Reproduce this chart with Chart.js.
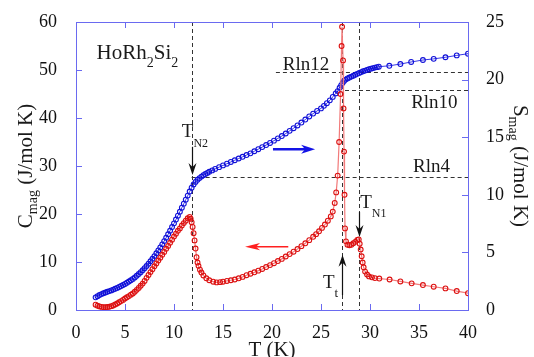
<!DOCTYPE html>
<html>
<head>
<meta charset="utf-8">
<script src="https://cdn.jsdelivr.net/npm/chart.js@4/dist/chart.umd.min.js"></script>
<style>
html,body{margin:0;padding:0;background:#fff;}
#wrap{width:534px;height:357px;position:relative;}
</style>
</head>
<body>
<div id="wrap"><canvas id="c" width="534" height="357"></canvas></div>
<script>
// ---- data ----
const T_C = [2.0,2.2,2.4,2.6,2.8,3.0,3.2,3.4,3.6,3.8,4.0,4.2,4.4,4.6,4.8,5.0,5.2,5.4,5.6,5.8,6.0,6.2,6.4,6.6,6.8,7.0,7.2,7.4,7.6,7.8,8.0,8.2,8.4,8.6,8.8,9.0,9.2,9.4,9.6,9.8,10.0,10.2,10.4,10.6,10.8,11.0,11.2,11.4,11.6,11.7,11.8,11.9,12.0,12.1,12.2,12.3,12.4,12.5,12.65,12.8,13.0,13.3,13.6,14.0,14.35,14.7,15.0,15.4,15.8,16.2,16.6,17.0,17.4,17.8,18.2,18.6,19.0,19.4,19.8,20.2,20.6,21.0,21.4,21.8,22.2,22.6,23.0,23.4,23.8,24.2,24.5,24.8,25.1,25.4,25.7,26.0,26.2,26.4,26.55,26.7,26.85,27.0,27.1,27.15,27.25,27.3,27.35,27.4,27.45,27.55,27.7,27.9,28.1,28.3,28.5,28.7,28.85,28.95,29.05,29.15,29.25,29.35,29.5,29.7,29.9,30.2,30.5,30.95,32.0,33.1,34.25,35.4,36.5,37.7,38.85,40.0];
const C_MAG = [1.1,0.9,0.75,0.65,0.6,0.6,0.62,0.68,0.8,0.95,1.15,1.35,1.6,1.85,2.1,2.4,2.65,2.9,3.2,3.45,3.8,4.2,4.6,5.05,5.5,6.05,6.7,7.3,7.9,8.5,9.1,9.7,10.3,10.9,11.5,12.1,12.75,13.35,14.0,14.65,15.3,15.9,16.5,17.0,17.6,18.1,18.6,19.1,19.4,19.0,18.3,17.3,16.0,14.5,12.8,11.0,9.9,9.2,8.4,7.8,7.2,6.6,6.2,5.9,5.75,5.8,5.9,6.05,6.2,6.35,6.6,6.9,7.25,7.55,7.85,8.2,8.55,8.95,9.35,9.75,10.2,10.65,11.15,11.65,12.15,12.7,13.3,13.9,14.55,15.25,15.8,16.4,17.1,17.8,18.6,19.5,20.5,22.3,24.5,28,35,45,55,59,52,42,33,24,17,14.3,13.6,13.5,13.6,13.9,14.2,14.6,14.7,13.8,12.6,11.2,9.9,8.9,8.0,7.4,7.0,6.8,6.65,6.55,6.35,5.95,5.55,5.2,4.85,4.5,3.95,3.5];

const T_S = [2.0,2.2,2.4,2.6,2.8,3.0,3.2,3.4,3.6,3.8,4.0,4.2,4.4,4.6,4.8,5.0,5.2,5.4,5.6,5.8,6.0,6.2,6.4,6.6,6.8,7.0,7.2,7.4,7.6,7.8,8.0,8.2,8.4,8.6,8.8,9.0,9.2,9.4,9.6,9.8,10.0,10.2,10.4,10.6,10.8,11.0,11.2,11.4,11.6,11.8,12.0,12.2,12.4,12.6,12.8,13.0,13.2,13.4,13.6,13.9,14.2,14.6,15.0,15.4,15.8,16.2,16.6,17.0,17.4,17.8,18.2,18.6,19.0,19.4,19.8,20.2,20.6,21.0,21.4,21.8,22.2,22.6,23.0,23.4,23.8,24.2,24.6,25.0,25.3,25.6,25.9,26.2,26.5,26.7,26.9,27.05,27.2,27.35,27.5,27.7,27.9,28.1,28.3,28.5,28.7,28.9,29.1,29.3,29.5,29.7,29.9,30.1,30.3,30.5,30.7,30.9,31.97,33.1,34.2,35.4,36.5,37.7,38.85,40.0];
const S_MAG = [1.1,1.2,1.3,1.38,1.45,1.52,1.58,1.64,1.7,1.77,1.84,1.92,2.0,2.08,2.17,2.26,2.36,2.47,2.58,2.7,2.83,2.97,3.12,3.28,3.45,3.63,3.82,4.02,4.23,4.45,4.68,4.92,5.17,5.43,5.7,5.98,6.27,6.57,6.88,7.2,7.52,7.85,8.19,8.53,8.88,9.23,9.58,9.93,10.28,10.62,10.9,11.12,11.3,11.45,11.58,11.7,11.8,11.9,12.0,12.12,12.25,12.4,12.55,12.7,12.85,13.0,13.15,13.3,13.45,13.6,13.78,13.96,14.14,14.32,14.5,14.7,14.9,15.1,15.32,15.55,15.78,16.02,16.27,16.53,16.8,17.05,17.28,17.5,17.72,17.95,18.2,18.5,18.8,19.0,19.3,19.5,19.7,19.88,20.0,20.1,20.18,20.26,20.34,20.42,20.5,20.58,20.65,20.72,20.78,20.84,20.9,20.95,21.0,21.04,21.08,21.12,21.2,21.35,21.53,21.7,21.8,21.94,22.1,22.25];

const X_TICKS = [0,5,10,15,20,25,30,35,40];
const C_TICKS = [0,10,20,30,40,50,60];
const S_TICKS = [0,5,10,15,20,25];

// transition temperatures / entropy levels (for guides)
const T_N2 = 11.8, T_T = 27.15, T_N1 = 28.9;
const RLN4 = 11.53, RLN10 = 19.14, RLN12 = 20.66;

const FONT = "'Liberation Serif'";
const FRAME = '#6a6af0';

function richWidth(ctx, parts){
  let w=0;
  for(const p of parts){ctx.font=p.s+'px '+FONT; w+=ctx.measureText(p.t).width;}
  return w;
}
function drawRich(ctx, parts, x, y){
  let cx=x;
  for(const p of parts){
    ctx.font=p.s+'px '+FONT;
    ctx.fillText(p.t, cx, y+(p.dy||0));
    cx+=ctx.measureText(p.t).width;
  }
}
function arrowHead(ctx, tx, ty, dx, dy, len, half, notch){
  const px=-dy, py=dx;
  const bx=tx-dx*len, by=ty-dy*len;
  ctx.beginPath();
  ctx.moveTo(tx,ty);
  ctx.lineTo(bx+px*half, by+py*half);
  ctx.lineTo(tx-dx*(len-notch), ty-dy*(len-notch));
  ctx.lineTo(bx-px*half, by-py*half);
  ctx.closePath();
  ctx.fill();
}

const annot = {
  id:'annot',
  beforeDatasetsDraw(chart){
    const {ctx, chartArea:a, scales:{x,y,y2}} = chart;
    ctx.save();
    ctx.strokeStyle='#333';
    ctx.lineWidth=1;
    ctx.setLineDash([4,3]);
    const vline=(t)=>{const px=Math.round(x.getPixelForValue(t))+0.5;ctx.beginPath();ctx.moveTo(px,a.top);ctx.lineTo(px,a.bottom);ctx.stroke();};
    const hline=(s,t0)=>{const py=Math.round(y2.getPixelForValue(s))+0.5;ctx.beginPath();ctx.moveTo(x.getPixelForValue(t0),py);ctx.lineTo(a.right,py);ctx.stroke();};
    vline(T_N2); vline(T_T); vline(T_N1);
    hline(RLN4, T_N2); hline(RLN10, 27.45); hline(RLN12, 20.4);
    ctx.restore();
  },
  afterDatasetsDraw(chart){
    const {ctx, chartArea:a, scales:{x,y,y2}} = chart;
    ctx.save();
    ctx.strokeStyle=FRAME; ctx.lineWidth=1;
    ctx.strokeRect(Math.round(a.left)+0.5, Math.round(a.top)+0.5, Math.round(a.right-a.left), Math.round(a.bottom-a.top));
    const TL=6;
    ctx.beginPath();
    for(const t of X_TICKS){ if(t<=0||t>=40) continue; const px=Math.round(x.getPixelForValue(t))+0.5;
      ctx.moveTo(px,a.bottom); ctx.lineTo(px,a.bottom-TL); ctx.moveTo(px,a.top); ctx.lineTo(px,a.top+TL);}
    for(const v of C_TICKS){ if(v<=0||v>=60) continue; const py=Math.round(y.getPixelForValue(v))+0.5;
      ctx.moveTo(a.left,py); ctx.lineTo(a.left+TL,py);}
    for(const v of S_TICKS){ if(v<=0||v>=25) continue; const py=Math.round(y2.getPixelForValue(v))+0.5;
      ctx.moveTo(a.right,py); ctx.lineTo(a.right-TL,py);}
    ctx.stroke();

    const X=(t)=>x.getPixelForValue(t), Y=(c)=>y.getPixelForValue(c);
    ctx.fillStyle='#111'; ctx.strokeStyle='#111'; ctx.lineWidth=1.2;
    let ax=Math.round(X(T_N2))+0.5;
    ctx.beginPath(); ctx.moveTo(ax,Y(34)); ctx.lineTo(ax,Y(29.5)); ctx.stroke();
    arrowHead(ctx, ax, Y(28.1), 0, 1, 12, 4, 4);
    ax=Math.round(X(T_N1))+0.5;
    ctx.beginPath(); ctx.moveTo(ax,Y(20.4)); ctx.lineTo(ax,Y(16.5)); ctx.stroke();
    arrowHead(ctx, ax, Y(15.2), 0, 1, 12, 4, 4);
    ax=Math.round(X(T_T))+0.5;
    ctx.beginPath(); ctx.moveTo(ax,Y(3.1)); ctx.lineTo(ax,Y(10)); ctx.stroke();
    arrowHead(ctx, ax, Y(11.5), 0, -1, 12, 4, 4);
    ctx.fillStyle='#1414e6'; ctx.strokeStyle='#1414e6'; ctx.lineWidth=2.6;
    let ay=Y(33.5);
    ctx.beginPath(); ctx.moveTo(X(20.1),ay); ctx.lineTo(X(23.6),ay); ctx.stroke();
    arrowHead(ctx, X(24.4), ay, 1, 0, 14, 4.5, 4);
    ctx.fillStyle='#ff2020'; ctx.strokeStyle='#ff2020'; ctx.lineWidth=1.5;
    ay=Y(13.2);
    ctx.beginPath(); ctx.moveTo(X(21.66),ay); ctx.lineTo(X(17.8),ay); ctx.stroke();
    arrowHead(ctx, X(17.25), ay, -1, 0, 15, 3.6, 4);

    ctx.fillStyle='#1a1a1a'; ctx.textBaseline='alphabetic'; ctx.textAlign='left';
    drawRich(ctx,[{t:'HoRh',s:21},{t:'2',s:14,dy:8},{t:'Si',s:21},{t:'2',s:14,dy:8}], X(2.1), Y(52.2));
    drawRich(ctx,[{t:'Rln12',s:19}], X(21.1), Y(50.1));
    drawRich(ctx,[{t:'Rln10',s:19}], X(34.2), Y(42.0));
    drawRich(ctx,[{t:'Rln4',s:19}], X(34.4), Y(28.8));
    drawRich(ctx,[{t:'T',s:19},{t:'N2',s:12,dy:10}], X(10.8), Y(36.0));
    drawRich(ctx,[{t:'T',s:19},{t:'N1',s:12,dy:9}], X(29.0), Y(21.2));
    drawRich(ctx,[{t:'T',s:19},{t:'t',s:13,dy:9}], X(25.2), Y(4.5));

    const cy=(a.top+a.bottom)/2;
    let parts=[{t:'C',s:21},{t:'mag',s:14,dy:5},{t:' (J/mol K)',s:21}];
    let w=richWidth(ctx,parts);
    ctx.save(); ctx.translate(32,cy); ctx.rotate(-Math.PI/2); drawRich(ctx,parts,-w/2,0); ctx.restore();
    parts=[{t:'S',s:21},{t:'mag',s:14,dy:5},{t:' (J/mol K)',s:21}];
    w=richWidth(ctx,parts);
    ctx.save(); ctx.translate(514,cy); ctx.rotate(Math.PI/2); drawRich(ctx,parts,-w/2,0); ctx.restore();
    parts=[{t:'T (K)',s:21}];
    w=richWidth(ctx,parts);
    drawRich(ctx,parts,(a.left+a.right)/2-w/2,356);
    ctx.restore();
  }
};

Chart.defaults.font.family = FONT;
const tickFont={family:FONT,size:18};
new Chart(document.getElementById('c'),{
  type:'scatter',
  data:{datasets:[
    {label:'C',data:T_C.map((t,i)=>({x:t,y:C_MAG[i]})),yAxisID:'y',showLine:true,
     borderColor:'#f27a7a',borderWidth:1.2,pointRadius:2.4,pointBorderWidth:1.1,
     pointBorderColor:'#dc1010',pointBackgroundColor:'rgba(0,0,0,0)',tension:0,order:1},
    {label:'S',data:T_S.map((t,i)=>({x:t,y:S_MAG[i]})),yAxisID:'y2',showLine:true,
     borderColor:'#3535e6',borderWidth:1,pointRadius:2.4,pointBorderWidth:1.1,
     pointBorderColor:'#1010d8',pointBackgroundColor:'rgba(0,0,0,0)',tension:0,order:2}
  ]},
  options:{
    responsive:false,animation:false,devicePixelRatio:1,
    layout:{padding:{top:22,left:0,right:0,bottom:0}},
    plugins:{legend:{display:false},tooltip:{enabled:false}},
    scales:{
      x:{type:'linear',min:0,max:40,position:'bottom',
         afterBuildTicks:(s)=>{s.ticks=X_TICKS.map(v=>({value:v}));},
         ticks:{font:tickFont,color:'#111',padding:4,maxRotation:0,autoSkip:false},
         grid:{display:false},border:{display:false},
         afterFit:(s)=>{s.height=47;}},
      y:{type:'linear',min:0,max:60,position:'left',
         afterBuildTicks:(s)=>{s.ticks=C_TICKS.map(v=>({value:v}));},
         ticks:{font:tickFont,color:'#111',padding:11},
         grid:{display:false},border:{display:false},
         afterFit:(s)=>{s.width=76;}},
      y2:{type:'linear',min:0,max:25,position:'right',
         afterBuildTicks:(s)=>{s.ticks=S_TICKS.map(v=>({value:v}));},
         ticks:{font:tickFont,color:'#111',padding:10},
         grid:{display:false},border:{display:false},
         afterFit:(s)=>{s.width=66;}}
    }
  },
  plugins:[annot]
});
</script>
</body>
</html>
